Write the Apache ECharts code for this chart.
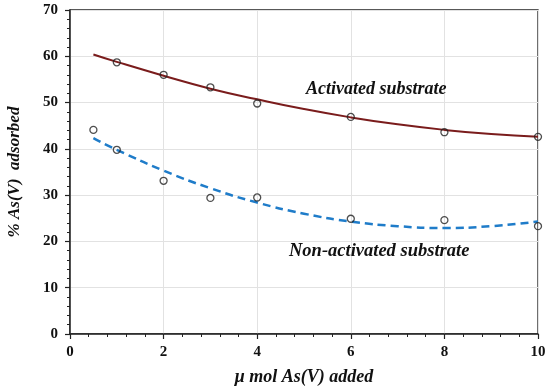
<!DOCTYPE html>
<html>
<head>
<meta charset="utf-8">
<script src="https://cdn.jsdelivr.net/npm/echarts@6/dist/echarts.min.js"></script>
<style>html,body{margin:0;padding:0;background:#fff}#c{width:550px;height:388px}</style>
</head>
<body>
<div id="c"></div>
<script>
// Measured points
const actX = [1, 2, 3, 4, 6, 8, 10];
const actY = [58.7, 56.0, 53.3, 49.8, 46.9, 43.6, 42.6];
const nonX = [0.5, 1, 2, 3, 4, 6, 8, 10];
const nonY = [44.1, 39.8, 33.1, 29.4, 29.5, 24.9, 24.6, 23.3];
// Trend curves
const trendX = [0.5, 1, 2, 3, 4, 5, 6, 7, 8, 9, 10];
const actTrend = [60.4, 58.8, 55.8, 53.0, 50.7, 48.6, 46.8, 45.3, 44.1, 43.2, 42.6];
const nonTrend = [42.3, 39.8, 35.3, 31.5, 28.4, 26.0, 24.3, 23.3, 22.9, 23.3, 24.3];
const xTicks = [0, 2, 4, 6, 8, 10];
const yTicks = [0, 10, 20, 30, 40, 50, 60, 70];

const zip = (xs, ys) => xs.map((x, i) => [x, ys[i]]);
const font = '"Liberation Serif", "Times New Roman", serif';

const chart = echarts.init(document.getElementById('c'), null, {renderer: 'canvas'});
chart.setOption({
  animation: false,
  backgroundColor: '#fff',
  grid: {left: 70, right: 12, top: 10, bottom: 54, show: true, borderColor: '#222', borderWidth: 1.3,
         containLabel: false, outerBoundsMode: 'none'},
  xAxis: {
    type: 'value', min: xTicks[0], max: xTicks[xTicks.length - 1], interval: 2,
    axisLine: {show: true, onZero: false, lineStyle: {color: '#222', width: 1.5}},
    axisTick: {show: true, inside: false, length: 5, lineStyle: {color: '#222', width: 1.2}},
    minorTick: {show: true, splitNumber: 5, length: 3, lineStyle: {color: '#222', width: 1}},
    splitLine: {show: true, lineStyle: {color: '#e2e2e2', width: 1}},
    axisLabel: {color: '#111', fontFamily: font, fontWeight: 'bold', fontSize: 15, margin: 11},
    name: 'μ mol As(V) added', nameLocation: 'middle', nameGap: 34,
    nameTextStyle: {color: '#111', fontFamily: font, fontWeight: 'bold', fontStyle: 'italic', fontSize: 18}
  },
  yAxis: {
    type: 'value', min: yTicks[0], max: yTicks[yTicks.length - 1], interval: 10,
    axisLine: {show: true, onZero: false, lineStyle: {color: '#222', width: 1.5}},
    axisTick: {show: true, inside: false, length: 5, lineStyle: {color: '#222', width: 1.2}},
    minorTick: {show: true, splitNumber: 5, length: 3, lineStyle: {color: '#222', width: 1}},
    splitLine: {show: true, lineStyle: {color: '#e2e2e2', width: 1}},
    axisLabel: {color: '#111', fontFamily: font, fontWeight: 'bold', fontSize: 15, margin: 12},
    name: '% As(V)  adsorbed', nameLocation: 'middle', nameGap: 47,
    nameTextStyle: {color: '#111', fontFamily: font, fontWeight: 'bold', fontStyle: 'italic', fontSize: 17}
  },
  series: [
    {type: 'line', data: zip(trendX, actTrend), smooth: true, symbol: 'none',
     lineStyle: {color: '#7a1c1c', width: 2}, z: 2},
    {type: 'line', data: zip(trendX, nonTrend), smooth: true, symbol: 'none',
     lineStyle: {color: '#1f7cc9', width: 2.5, type: [8, 5]}, z: 2},
    {type: 'scatter', data: zip(actX, actY), symbol: 'circle', symbolSize: 7,
     itemStyle: {color: 'rgba(255,255,255,0)', borderColor: '#222', borderWidth: 1.3}, z: 3},
    {type: 'scatter', data: zip(nonX, nonY), symbol: 'circle', symbolSize: 7,
     itemStyle: {color: 'rgba(255,255,255,0)', borderColor: '#222', borderWidth: 1.3}, z: 3}
  ],
  graphic: [
    {type: 'text', left: 306, top: 80, z: 10,
     style: {text: 'Activated substrate', fill: '#111', font: 'italic bold 18px ' + font}},
    {type: 'text', left: 289, top: 242, z: 10,
     style: {text: 'Non-activated substrate', fill: '#111', font: 'italic bold 18.5px ' + font}}
  ]
});
</script>
</body>
</html>
